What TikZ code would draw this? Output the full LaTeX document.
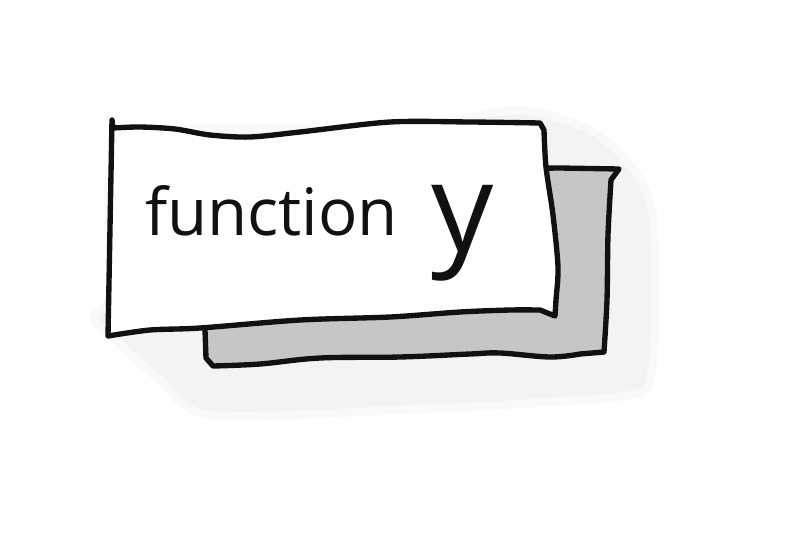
\documentclass[tikz,border=0pt]{standalone}
\usepackage{fontspec}
\setmainfont{Open Sans}
\usepackage{xcolor}
\usepackage{tikz}
\usetikzlibrary{positioning}
\definecolor{ink}{HTML}{111111}
\definecolor{cardgray}{HTML}{C6C6C6}
\definecolor{shadowgray}{HTML}{F3F3F3}
\tikzset{
  card/.style={draw=ink, line width=3.8pt, line join=round, line cap=round},
  shade/.style={fill=shadowgray, draw=shadowgray!50, line width=6pt, line join=round},
  hand/.style={text=ink, inner sep=0pt, font=\fontsize{46.5}{46.5}\selectfont},
  bighand/.style={text=ink, inner sep=0pt, font=\fontsize{88}{88}\selectfont}
}
\begin{document}
\begin{tikzpicture}[x=0.025cm, y=-0.025cm]
  \useasboundingbox (0,0) rectangle (798,554);
  % soft shadow under both cards
  \path[shade] plot[smooth cycle, tension=0.5] coordinates {(130,140) (400,130) (515,110) (590,130) (630,165) (652,210) (655,300) (652,370) (635,394) (535,403) (420,409) (212,415) (160,380) (122,346) (94,318) (112,290)};
  % back card
  \draw[card, fill=cardgray] (205,172) -- (560,168) -- (619,169)
    -- plot[smooth, tension=0.5] coordinates {(611,180) (608,235) (607,300) (604,352)}
    -- plot[smooth, tension=0.6] coordinates {(580,354) (550,357) (500,353) (470,354) (400,357) (320,358) (260,364) (213,366)}
    -- (206,358) -- (205,330) -- cycle;
  % front card
  \draw[card, fill=white] (112,120) -- plot[smooth, tension=0.5] coordinates {(113,128) (140,127) (175,129) (210,135) (250,137) (300,132) (390,122) (470,122) (540,123)}
    -- plot[smooth, tension=0.5] coordinates {(544,130) (546,167) (553,215) (558,267) (556,300) (555,316)}
    -- plot[smooth, tension=0.5] coordinates {(540,310) (510,310) (460,312) (390,317) (300,320) (200,328) (150,330) (108,336)}
    -- cycle;
  \node[hand, anchor=base west] (fword) at (145,235) {function};
  \node[bighand, anchor=base west] (yword) at (431,251) {y};
\end{tikzpicture}
\end{document}
